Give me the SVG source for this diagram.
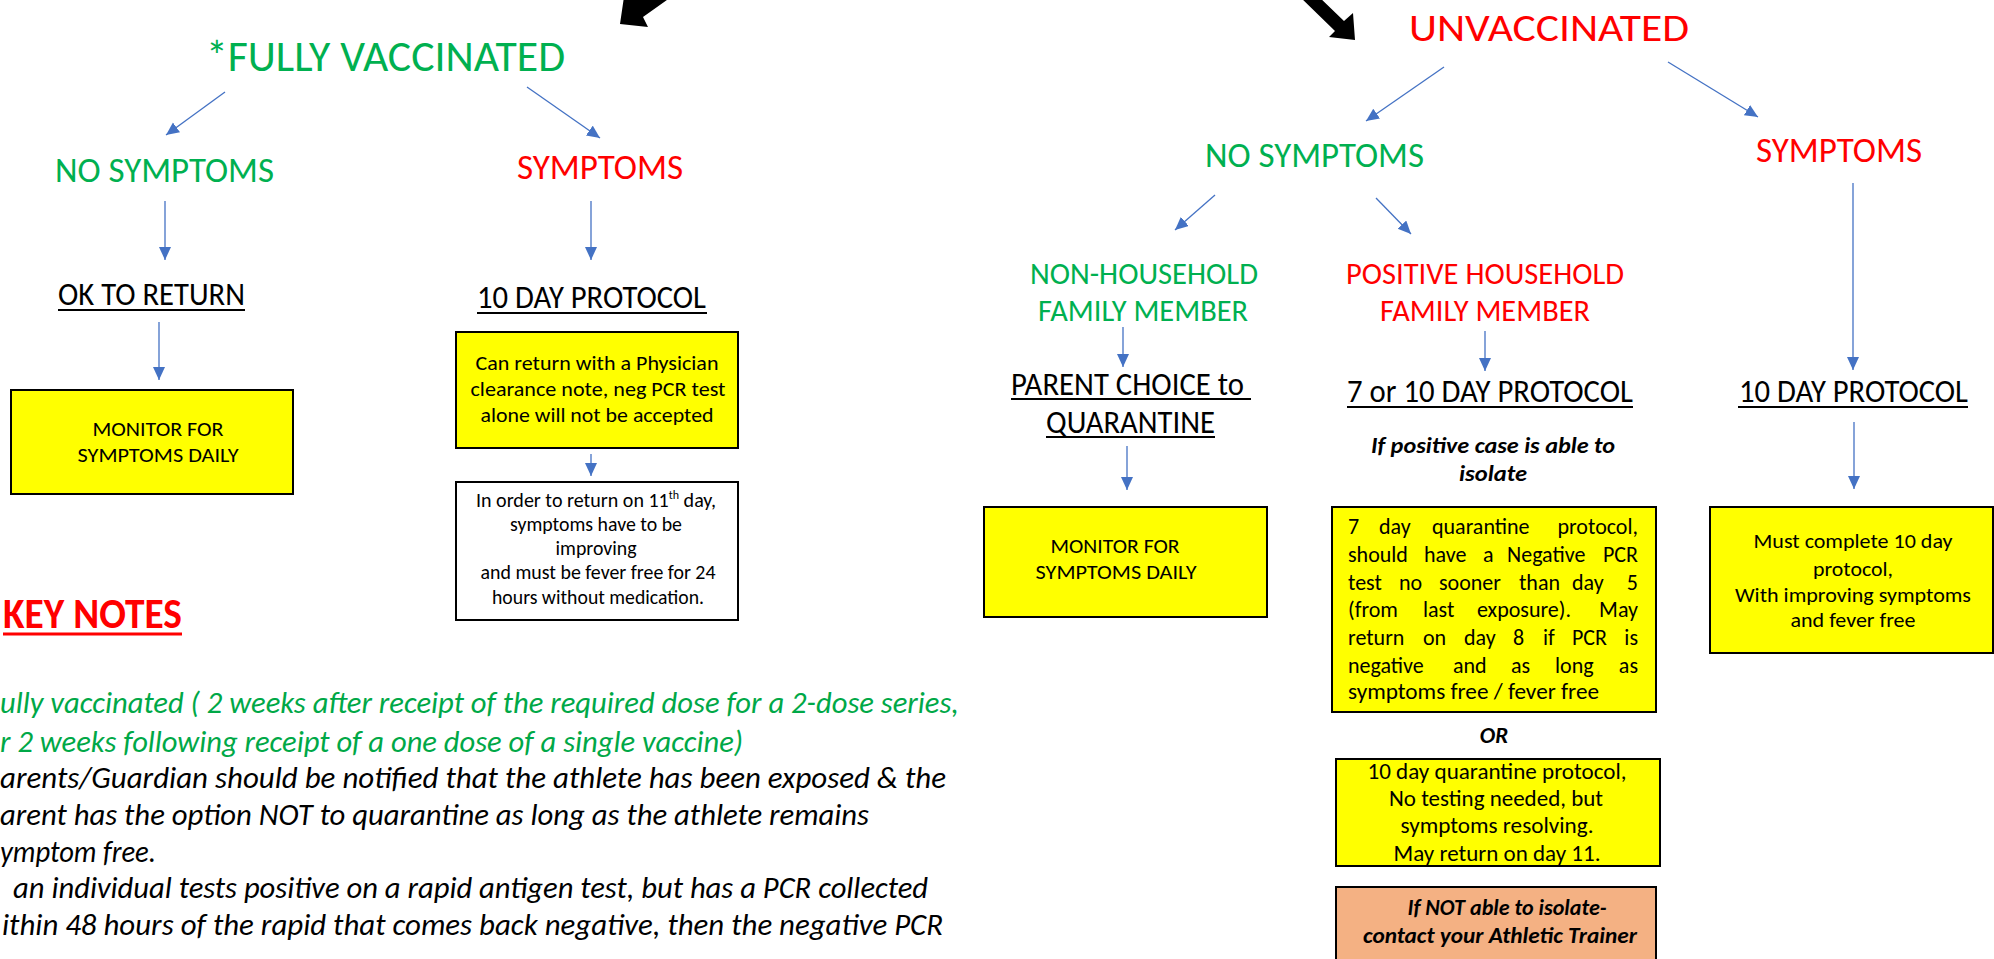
<svg xmlns="http://www.w3.org/2000/svg" width="1994" height="959" viewBox="0 0 1994 959">
<style>
text{font-family:Carlito,Lato,"Liberation Sans",sans-serif;}
.h1{font-size:44px;}
.h2{font-size:35px;}
.h3{font-size:30px;}
.h4{font-size:32px;fill:#000;}
.b{font-size:20px;fill:#000;}
.b21{font-size:21px;fill:#000;}
.b22{font-size:22px;fill:#000;}
.bi{font-size:23px;font-weight:bold;font-style:italic;fill:#000;}
.note{font-size:30px;font-style:italic;}
.g{fill:#00B050;}
.r{fill:#FF0000;}
.m{text-anchor:middle;}
.box{stroke:#000;stroke-width:2;}
.yel{fill:#FFFF00;}
.ul{stroke:#000;stroke-width:2;}
.con{stroke:#4472C4;stroke-width:1.3;fill:none;marker-end:url(#ah);}
</style>
<defs>
<marker id="ah" markerUnits="userSpaceOnUse" markerWidth="14" markerHeight="13" refX="13" refY="6" orient="auto">
<path d="M0,0 L13,6 L0,12 z" fill="#4472C4"/>
</marker>
</defs>
<rect width="1994" height="959" fill="#FFFFFF"/>

<g id="connectors">
<polygon points="625,-10 620,24 648,27 643,17 681,-10" fill="#000"/>
<polygon points="1298,-5 1335,31 1329,37 1355,40 1353,13 1344,21 1317,-5" fill="#000"/>
<line class="con" x1="225" y1="92" x2="166" y2="135"/>
<line class="con" x1="527" y1="87" x2="600" y2="138"/>
<line class="con" x1="165" y1="201" x2="165" y2="260"/>
<line class="con" x1="591" y1="201" x2="591" y2="260"/>
<line class="con" x1="159" y1="322" x2="159" y2="380"/>
<line class="con" x1="591" y1="454" x2="591" y2="476"/>
<line class="con" x1="1444" y1="67" x2="1366" y2="121"/>
<line class="con" x1="1668" y1="62" x2="1758" y2="117"/>
<line class="con" x1="1215" y1="195" x2="1175" y2="230"/>
<line class="con" x1="1376" y1="198" x2="1411" y2="234"/>
<line class="con" x1="1123" y1="327" x2="1123" y2="367"/>
<line class="con" x1="1485" y1="331" x2="1485" y2="371"/>
<line class="con" x1="1127" y1="446" x2="1127" y2="490"/>
<line class="con" x1="1853" y1="183" x2="1853" y2="370"/>
<line class="con" x1="1854" y1="422" x2="1854" y2="489"/>
</g>

<g id="fully-vaccinated"><text class="h1 g" x="206" y="71" textLength="359" lengthAdjust="spacingAndGlyphs">*FULLY VACCINATED</text></g>
<g id="fv-no-symptoms"><text class="h2 g" x="55" y="182" textLength="219" lengthAdjust="spacingAndGlyphs">NO SYMPTOMS</text></g>
<g id="fv-symptoms"><text class="h2 r" x="517" y="179" textLength="166" lengthAdjust="spacingAndGlyphs">SYMPTOMS</text></g>
<g id="ok-to-return"><text class="h4" x="58" y="305" textLength="187" lengthAdjust="spacingAndGlyphs">OK TO RETURN</text><line class="ul" x1="58" y1="310" x2="245" y2="310"/></g>
<g id="fv-10-day"><text class="h4" x="477" y="308" textLength="229" lengthAdjust="spacingAndGlyphs">10 DAY PROTOCOL</text><line class="ul" x1="477" y1="313" x2="707" y2="313"/></g>
<g id="fv-monitor">
<rect class="box yel" x="11" y="390" width="282" height="104"/>
<text class="b21 m" x="158" y="436" textLength="131" lengthAdjust="spacingAndGlyphs">MONITOR FOR</text>
<text class="b21 m" x="158" y="462" textLength="161" lengthAdjust="spacingAndGlyphs">SYMPTOMS DAILY</text>
</g>
<g id="fv-physician">
<rect class="box yel" x="456" y="332" width="282" height="116"/>
<text class="b21 m" x="597" y="370" textLength="243" lengthAdjust="spacingAndGlyphs">Can return with a Physician</text>
<text class="b21 m" x="598" y="396" textLength="255" lengthAdjust="spacingAndGlyphs">clearance note, neg PCR test</text>
<text class="b21 m" x="597" y="422" textLength="233" lengthAdjust="spacingAndGlyphs">alone will not be accepted</text>
</g>
<g id="fv-return-11">
<rect class="box" x="456" y="482" width="282" height="138" fill="#FFFFFF" stroke-width="1.5"/>
<text class="b" x="476" y="507" textLength="240" lengthAdjust="spacingAndGlyphs">In order to return on 11<tspan font-size="12" dy="-8">th</tspan><tspan dy="8"> day,</tspan></text>
<text class="b m" x="596" y="531" textLength="172" lengthAdjust="spacingAndGlyphs">symptoms have to be</text>
<text class="b m" x="596" y="555" textLength="81" lengthAdjust="spacingAndGlyphs">improving</text>
<text class="b m" x="598" y="579" textLength="235" lengthAdjust="spacingAndGlyphs">and must be fever free for 24</text>
<text class="b m" x="598" y="604" textLength="212" lengthAdjust="spacingAndGlyphs">hours without medication.</text>
</g>

<g id="key-notes">
<text x="3" y="628" font-size="42" font-weight="bold" fill="#FF0000" textLength="179" lengthAdjust="spacingAndGlyphs">KEY NOTES</text>
<line x1="3" y1="634" x2="182" y2="634" stroke="#FF0000" stroke-width="3"/>
<text class="note" fill="#00A847" x="0" y="713" textLength="959" lengthAdjust="spacingAndGlyphs">ully vaccinated ( 2 weeks after receipt of the required dose for a 2-dose series,</text>
<text class="note" fill="#00A847" x="0" y="752" textLength="743" lengthAdjust="spacingAndGlyphs">r 2 weeks following receipt of a one dose of a single vaccine)</text>
<text class="note" fill="#000" x="0" y="788" textLength="946" lengthAdjust="spacingAndGlyphs">arents/Guardian should  be notified that the athlete has been exposed &amp; the</text>
<text class="note" fill="#000" x="0" y="825" textLength="869" lengthAdjust="spacingAndGlyphs">arent has the option NOT to quarantine as long as the athlete remains</text>
<text class="note" fill="#000" x="0" y="862" textLength="156" lengthAdjust="spacingAndGlyphs">ymptom free.</text>
<text class="note" fill="#000" x="13" y="898" textLength="915" lengthAdjust="spacingAndGlyphs">an individual tests positive on a rapid antigen test, but has a PCR collected</text>
<text class="note" fill="#000" x="2" y="935" textLength="941" lengthAdjust="spacingAndGlyphs">ithin 48 hours of the rapid that comes back negative, then the negative PCR</text>
</g>

<g id="unvaccinated"><text class="r" font-size="39" x="1409" y="41" textLength="280" lengthAdjust="spacingAndGlyphs">UNVACCINATED</text></g>
<g id="uv-no-symptoms"><text class="h2 g" x="1205" y="167" textLength="219" lengthAdjust="spacingAndGlyphs">NO SYMPTOMS</text></g>
<g id="uv-symptoms"><text class="h2 r" x="1756" y="162" textLength="166" lengthAdjust="spacingAndGlyphs">SYMPTOMS</text></g>
<g id="non-household">
<text class="h3 g" x="1030" y="284" textLength="228" lengthAdjust="spacingAndGlyphs">NON-HOUSEHOLD</text>
<text class="h3 g" x="1038" y="321" textLength="210" lengthAdjust="spacingAndGlyphs">FAMILY MEMBER</text>
</g>
<g id="positive-household">
<text class="h3 r" x="1346" y="284" textLength="278" lengthAdjust="spacingAndGlyphs">POSITIVE HOUSEHOLD</text>
<text class="h3 r" x="1380" y="321" textLength="210" lengthAdjust="spacingAndGlyphs">FAMILY MEMBER</text>
</g>
<g id="parent-choice">
<text class="h4" x="1011" y="395" textLength="233" lengthAdjust="spacingAndGlyphs">PARENT CHOICE to</text>
<line class="ul" x1="1011" y1="399" x2="1251" y2="399"/>
<text class="h4" x="1046" y="433" textLength="169" lengthAdjust="spacingAndGlyphs">QUARANTINE</text>
<line class="ul" x1="1046" y1="437" x2="1215" y2="437"/>
</g>
<g id="seven-or-ten">
<text class="h4" x="1347" y="402" textLength="286" lengthAdjust="spacingAndGlyphs">7 or 10 DAY PROTOCOL</text>
<line class="ul" x1="1347" y1="407" x2="1633" y2="407"/>
<text class="bi m" x="1493" y="453" textLength="244" lengthAdjust="spacingAndGlyphs">If positive case is able to</text>
<text class="bi m" x="1493" y="481" textLength="68" lengthAdjust="spacingAndGlyphs">isolate</text>
</g>
<g id="uv-10-day"><text class="h4" x="1739" y="402" textLength="229" lengthAdjust="spacingAndGlyphs">10 DAY PROTOCOL</text><line class="ul" x1="1738" y1="407" x2="1968" y2="407"/></g>
<g id="uv-monitor">
<rect class="box yel" x="984" y="507" width="283" height="110"/>
<text class="b21 m" x="1115" y="553" textLength="129" lengthAdjust="spacingAndGlyphs">MONITOR FOR</text>
<text class="b21 m" x="1116" y="579" textLength="161" lengthAdjust="spacingAndGlyphs">SYMPTOMS DAILY</text>
</g>
<g id="seven-day-box">
<rect class="box yel" x="1332" y="507" width="324" height="205"/>
<text class="b22" y="534"><tspan x="1348">7</tspan><tspan x="1379">day</tspan><tspan x="1432">quarantine</tspan></text>
<text class="b22" x="1638" y="534" text-anchor="end">protocol,</text>
<text class="b22" y="562"><tspan x="1348">should</tspan><tspan x="1424">have</tspan><tspan x="1483">a</tspan><tspan x="1507">Negative</tspan></text>
<text class="b22" x="1638" y="562" text-anchor="end">PCR</text>
<text class="b22" y="590"><tspan x="1348">test</tspan><tspan x="1399">no</tspan><tspan x="1439">sooner</tspan><tspan x="1519">than</tspan><tspan x="1572">day</tspan></text>
<text class="b22" x="1638" y="590" text-anchor="end">5</text>
<text class="b22" y="617"><tspan x="1348">(from</tspan><tspan x="1423">last</tspan><tspan x="1477">exposure).</tspan></text>
<text class="b22" x="1638" y="617" text-anchor="end">May</text>
<text class="b22" y="645"><tspan x="1348">return</tspan><tspan x="1423">on</tspan><tspan x="1464">day</tspan><tspan x="1513">8</tspan><tspan x="1543">if</tspan><tspan x="1572">PCR</tspan></text>
<text class="b22" x="1638" y="645" text-anchor="end">is</text>
<text class="b22" y="673"><tspan x="1348">negative</tspan><tspan x="1453">and</tspan><tspan x="1511">as</tspan><tspan x="1555">long</tspan></text>
<text class="b22" x="1638" y="673" text-anchor="end">as</text>
<text class="b22" x="1348" y="699" textLength="251" lengthAdjust="spacingAndGlyphs">symptoms free / fever free</text>
</g>
<g id="or-label"><text class="bi m" x="1494" y="743">OR</text></g>
<g id="ten-day-box">
<rect class="box yel" x="1336" y="759" width="324" height="107"/>
<text class="b22 m" x="1497" y="779" textLength="259" lengthAdjust="spacingAndGlyphs">10 day quarantine protocol,</text>
<text class="b22 m" x="1496" y="806" textLength="214" lengthAdjust="spacingAndGlyphs">No testing needed, but</text>
<text class="b22 m" x="1497" y="833" textLength="193" lengthAdjust="spacingAndGlyphs">symptoms resolving.</text>
<text class="b22 m" x="1497" y="861" textLength="207" lengthAdjust="spacingAndGlyphs">May return on day 11.</text>
</g>
<g id="not-isolate">
<rect class="box" x="1336" y="887" width="320" height="90" fill="#F4B183"/>
<text class="bi m" x="1507" y="915" textLength="199" lengthAdjust="spacingAndGlyphs">If NOT able to isolate-</text>
<text class="bi m" x="1500" y="943" textLength="274" lengthAdjust="spacingAndGlyphs">contact your Athletic Trainer</text>
</g>
<g id="uv-complete">
<rect class="box yel" x="1710" y="507" width="283" height="146"/>
<text class="b m" x="1853" y="548" textLength="199" lengthAdjust="spacingAndGlyphs">Must complete 10 day</text>
<text class="b m" x="1853" y="576" textLength="80" lengthAdjust="spacingAndGlyphs">protocol,</text>
<text class="b m" x="1853" y="602" textLength="236" lengthAdjust="spacingAndGlyphs">With improving symptoms</text>
<text class="b m" x="1853" y="627" textLength="125" lengthAdjust="spacingAndGlyphs">and fever free</text>
</g>
</svg>
